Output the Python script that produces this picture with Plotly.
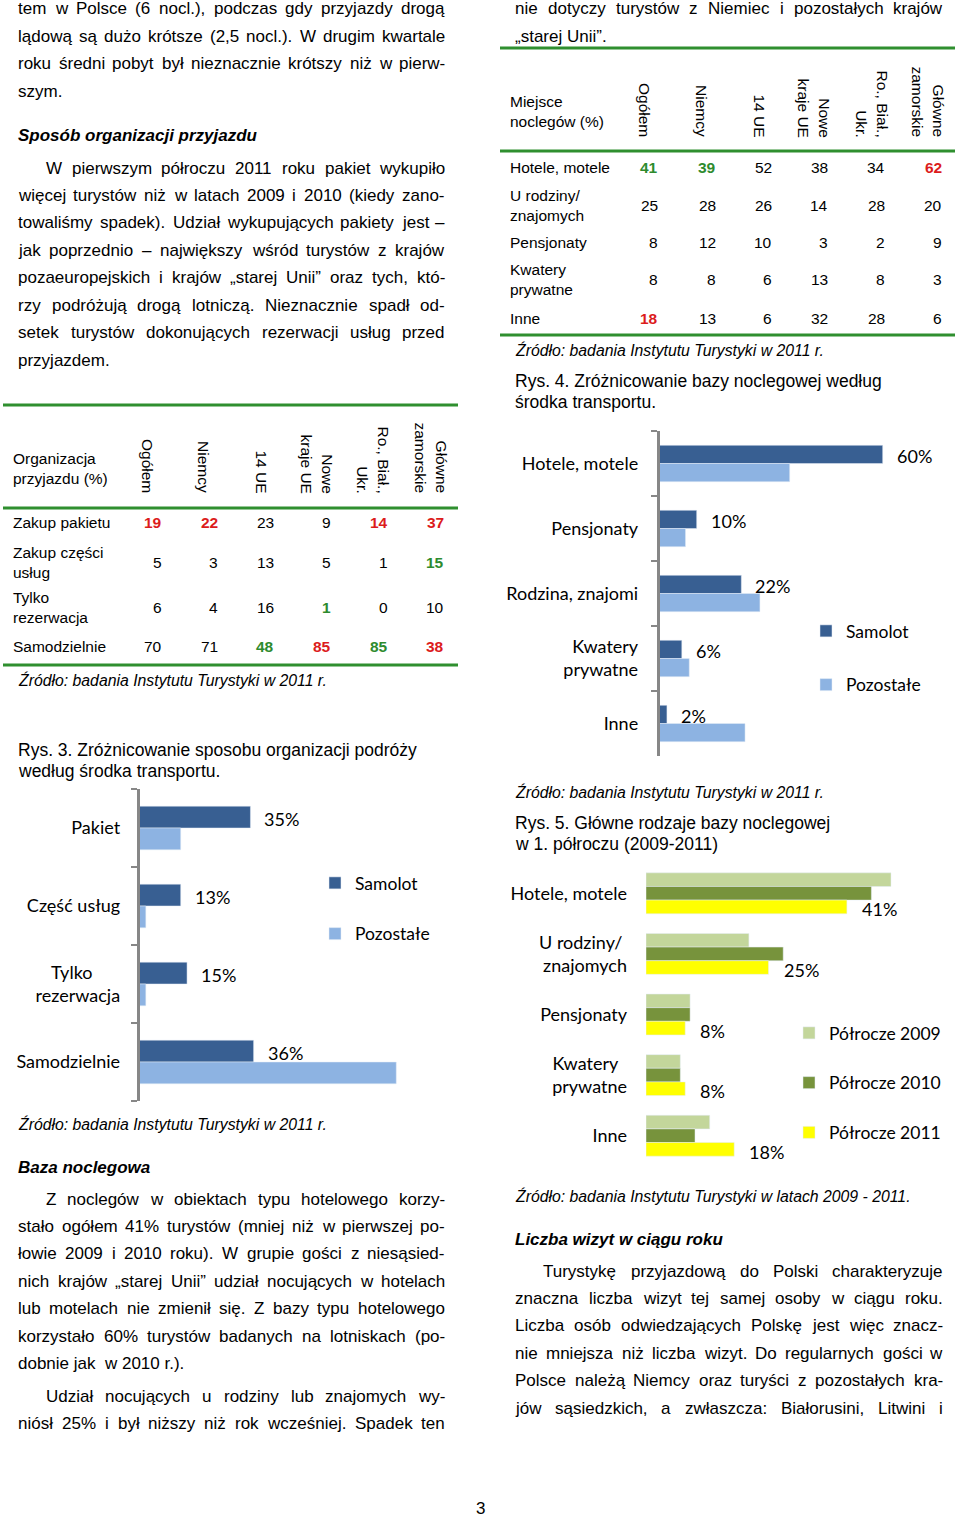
import plotly.graph_objects as go

# ---------------- data ----------------
groups = ["Ogółem", "Niemcy", "14 UE", "Nowe<br>kraje UE", "Ro., Biał.,<br>Ukr.", "Główne<br>zamorskie"]

org_rows = ["Zakup pakietu", "Zakup części<br>usług", "Tylko<br>rezerwacja", "Samodzielnie"]
org_values = [
    [19, 22, 23, 9, 14, 37],
    [5, 3, 13, 5, 1, 15],
    [6, 4, 16, 1, 0, 10],
    [70, 71, 48, 85, 85, 38],
]
org_red = [(0, 0), (0, 1), (0, 4), (0, 5), (3, 3), (3, 5)]
org_green = [(1, 5), (2, 3), (3, 2), (3, 4)]

acc_rows = ["Hotele, motele", "U rodziny/<br>znajomych", "Pensjonaty", "Kwatery<br>prywatne", "Inne"]
acc_values = [
    [41, 39, 52, 38, 34, 62],
    [25, 28, 26, 14, 28, 20],
    [8, 12, 10, 3, 2, 9],
    [8, 8, 6, 13, 8, 3],
    [18, 13, 6, 32, 28, 6],
]
acc_red = [(0, 5), (4, 0)]
acc_green = [(0, 0), (0, 1)]

org_cats = ["Pakiet", "Część usług", "Tylko<br>rezerwacja", "Samodzielnie"]
org_samolot = [35, 13, 15, 36]
org_pozostale = [13, 2, 2, 81]

base_cats = ["Hotele, motele", "Pensjonaty", "Rodzina, znajomi", "Kwatery<br>prywatne", "Inne"]
base_samolot = [60, 10, 22, 6, 2]
base_pozostale = [35, 7, 27, 8, 23]

trend_cats = ["Hotele, motele", "U rodziny/<br>znajomych", "Pensjonaty", "Kwatery<br>prywatne", "Inne"]
half_2009 = [50, 21, 9, 7, 13]
half_2010 = [46, 28, 9, 7, 10]
half_2011 = [41, 25, 8, 8, 18]

series_transport = ["Samolot", "Pozostałe"]
series_years = ["Półrocze 2009", "Półrocze 2010", "Półrocze 2011"]

# ---------------- text ----------------
left_par1 = [
    "tem w Polsce (6 nocl.), podczas gdy przyjazdy drogą",
    "lądową są dużo krótsze (2,5 nocl.). W drugim kwartale",
    "roku średni pobyt był nieznacznie krótszy niż w pierw-",
    "szym.",
]
head_org = "Sposób organizacji przyjazdu"
left_par2 = [
    "W pierwszym półroczu 2011 roku pakiet wykupiło",
    "więcej turystów niż w latach 2009 i 2010 (kiedy zano-",
    "towaliśmy spadek). Udział wykupujących pakiety jest –",
    "jak poprzednio – największy wśród turystów z krajów",
    "pozaeuropejskich i krajów „starej Unii” oraz tych, któ-",
    "rzy podróżują drogą lotniczą. Nieznacznie spadł od-",
    "setek turystów dokonujących rezerwacji usług przed",
    "przyjazdem.",
]
head_base = "Baza noclegowa"
left_par3 = [
    "Z noclegów w obiektach typu hotelowego korzy-",
    "stało ogółem 41% turystów (mniej niż w pierwszej po-",
    "łowie 2009 i 2010 roku). W grupie gości z niesąsied-",
    "nich krajów „starej Unii” udział nocujących w hotelach",
    "lub motelach nie zmienił się. Z bazy typu hotelowego",
    "korzystało 60% turystów badanych na lotniskach (po-",
    "dobnie jak  w 2010 r.).",
]
left_par4 = [
    "Udział nocujących u rodziny lub znajomych wy-",
    "niósł 25% i był niższy niż rok wcześniej. Spadek ten",
]
right_par1 = [
    "nie dotyczy turystów z Niemiec i pozostałych krajów",
    "„starej Unii”.",
]
head_visits = "Liczba wizyt w ciągu roku"
right_par2 = [
    "Turystykę przyjazdową do Polski charakteryzuje",
    "znaczna liczba wizyt tej samej osoby w ciągu roku.",
    "Liczba osób odwiedzających Polskę jest więc znacz-",
    "nie mniejsza niż liczba wizyt. Do regularnych gości w",
    "Polsce należą Niemcy oraz turyści z pozostałych kra-",
    "jów sąsiedzkich, a zwłaszcza: Białorusini, Litwini i",
]
src_2011 = "Źródło: badania Instytutu Turystyki w 2011 r."
src_years = "Źródło: badania Instytutu Turystyki w latach 2009 - 2011."
rys3 = ["Rys. 3. Zróżnicowanie sposobu organizacji podróży", "według środka transportu."]
rys4 = ["Rys. 4. Zróżnicowanie bazy noclegowej według", "środka transportu."]
rys5 = ["Rys. 5. Główne rodzaje bazy noclegowej", "w 1. półroczu (2009-2011)"]
org_head_label = "Organizacja<br>przyjazdu (%)"
acc_head_label = "Miejsce<br>noclegów (%)"
page_no = "3"

# ---------------- styles ----------------
PW, PH = 960, 1518
BODY = "Liberation Sans, Arial, sans-serif"
CHART = "Lato, Carlito, Calibri, sans-serif"
GREEN_LINE = "#2f8f2f"
RED = "#dc1c1c"
GREEN = "#2e8b2e"
DARK = "#385f92"
LIGHT = "#8db3e2"
C2009 = "#c3d69b"
C2010 = "#77933c"
C2011 = "#ffff00"
AXIS = "#878787"
BODY_SIZE = 17
CHART_SIZE = 18
NB = "\u00a0"


def X(p):
    return p / PW


def Y(p):
    return 1 - p / PH


AW = {' ': 278, '.': 278, ',': 278, '(': 333, ')': 333, '-': 333, '–': 556, '„': 333, '”': 333,
      ':': 278, ';': 278, '/': 278, '%': 889}
for ch in "abdeghnopqu" + "ąęńó":
    AW[ch] = 556
for ch in "ckszvxy" + "ćśźż":
    AW[ch] = 500
for ch in "ijl" + "ł":
    AW[ch] = 222
AW.update({'f': 278, 't': 278, 'r': 333, 'm': 833, 'w': 722})
AW.update({'A': 667, 'B': 667, 'C': 722, 'D': 722, 'E': 667, 'F': 611, 'G': 778, 'H': 722, 'I': 278,
           'J': 500, 'K': 667, 'L': 556, 'M': 833, 'N': 722, 'O': 778, 'P': 667, 'R': 722, 'S': 667,
           'T': 611, 'U': 722, 'V': 667, 'W': 944, 'Z': 611, 'Ś': 667, 'Ź': 611, 'Ż': 611})
for ch in "0123456789":
    AW[ch] = 556


def tw(s, size):
    return sum(AW.get(c, 556) for c in s) * size / 1000.0


annotations = []
shapes = []


def add_text(x, y, text, size=BODY_SIZE, family=BODY, color="black", xanchor="left",
             yanchor="middle", align="left", textangle=0, bold=False, italic=False):
    t = text
    if bold:
        t = "<b>" + t + "</b>"
    if italic:
        t = "<i>" + t + "</i>"
    annotations.append(dict(x=X(x), y=Y(y), xref="paper", yref="paper", text=t, showarrow=False,
                            xanchor=xanchor, yanchor=yanchor, align=align, textangle=textangle,
                            font=dict(family=family, size=size, color=color),
                            borderpad=0, borderwidth=0))


def justified(y, line, left, right, size=BODY_SIZE):
    words = line.split(" ")
    if len(words) == 1:
        add_text(left, y, line, size)
        return
    widths = [tw(w, size) for w in words]
    gap = (right - left - sum(widths)) / (len(words) - 1)
    x = left
    for i, (w, wd) in enumerate(zip(words, widths)):
        if i == len(words) - 1:
            add_text(right, y, w, size, xanchor="right")
        else:
            add_text(x, y, w, size)
        x += wd + gap


def paragraph(lines, y0, left, right, indent=0, last_justified=False, spacing=27.45):
    for i, line in enumerate(lines):
        l = left + (indent if i == 0 else 0)
        y = y0 + i * spacing
        if i == len(lines) - 1 and not last_justified:
            add_text(l, y, line)
        else:
            justified(y, line, l, right)


def hline(x0, x1, y, color=GREEN_LINE, width=3):
    shapes.append(dict(type="line", xref="paper", yref="paper", x0=X(x0), x1=X(x1), y0=Y(y), y1=Y(y),
                       line=dict(color=color, width=width)))


def table(lx0, lx1, y_top, y_mid, y_bot, head_label, head_xy, col_centers, head_bottom,
          col_right, rows, row_ys, values, reds, greens, label_x):
    hline(lx0, lx1, y_top)
    hline(lx0, lx1, y_mid)
    hline(lx0, lx1, y_bot)
    add_text(head_xy[0], head_xy[1], head_label, 15.5, align="left")
    for cx, g in zip(col_centers, groups):
        add_text(cx, head_bottom, g, 15.5, xanchor="center", yanchor="bottom", align="right", textangle=90)
    for r, (lab, ry) in enumerate(zip(rows, row_ys)):
        add_text(label_x, ry, lab, 15.5, align="left")
        for c, v in enumerate(values[r]):
            col = "black"
            bold = False
            if (r, c) in reds:
                col, bold = RED, True
            elif (r, c) in greens:
                col, bold = GREEN, True
            add_text(col_right[c], ry, str(v), 15.5, color=col, xanchor="right", bold=bold)


# ---- left column text ----
L0, L1 = 18, 445
R0, R1 = 515, 943
paragraph(left_par1, 9, L0, L1)
add_text(L0, 136, head_org, BODY_SIZE, bold=True, italic=True)
paragraph(left_par2, 168, L0, L1, indent=28)

table(3, 458, 405, 508, 665, org_head_label, (13, 468), [148, 204, 261, 317, 373, 431], 493,
      [162, 218, 274, 331, 388, 444], org_rows, [523, 563, 607, 646], org_values, org_red, org_green, 13)
add_text(L0, 680, src_2011, 15.8, italic=True)
add_text(L0, 750, rys3[0], 17.5)
add_text(L0, 771, rys3[1], 17.5)

add_text(L0, 1124, src_2011, 15.8, italic=True)
add_text(L0, 1167, head_base, BODY_SIZE, bold=True, italic=True)
paragraph(left_par3, 1199, L0, L1, indent=28)
paragraph(left_par4, 1396, L0, L1, indent=28, last_justified=True)

# ---- right column text ----
paragraph(right_par1, 9, R0, R1)
table(500, 955, 48, 151, 335, acc_head_label, (510, 112), [645, 702, 759, 814, 872, 928], 137,
      [658, 716, 772, 828, 885, 942], acc_rows, [167, 205, 242, 280, 318], acc_values, acc_red, acc_green, 510)
add_text(R0, 350, src_2011, 15.8, italic=True)
add_text(R0, 381, rys4[0], 17.5)
add_text(R0, 402, rys4[1], 17.5)

add_text(R0, 792, src_2011, 15.8, italic=True)
add_text(R0, 823, rys5[0], 17.5)
add_text(R0, 844, rys5[1], 17.5)

add_text(R0, 1196, src_years, 15.8, italic=True)
add_text(R0, 1239, head_visits, BODY_SIZE, bold=True, italic=True)
paragraph(right_par2, 1271, R0, R1, indent=28, last_justified=True)

add_text(480, 1508, page_no, BODY_SIZE, xanchor="center")

# ---------------- charts ----------------
fig = go.Figure()
label_font = dict(family=CHART, size=CHART_SIZE, color="black")

# Chart 1: organisation by transport
fig.add_trace(go.Bar(y=org_cats, x=org_samolot, orientation="h", name=series_transport[0],
                     marker_color=DARK, width=0.28, offset=-0.28, xaxis="x", yaxis="y",
                     legend="legend", legendgroup="s1"))
fig.add_trace(go.Bar(y=org_cats, x=org_pozostale, orientation="h", name=series_transport[1],
                     marker_color=LIGHT, width=0.28, offset=0.0, xaxis="x", yaxis="y",
                     legend="legend", legendgroup="p1"))
for c, v in zip(org_cats, org_samolot):
    annotations.append(dict(x=v, y=c, xref="x", yref="y", text=f"{v}%", showarrow=False,
                            xanchor="left", yanchor="middle", xshift=12, yshift=9, font=label_font))

# Chart 2: accommodation by transport
fig.add_trace(go.Bar(y=base_cats, x=base_samolot, orientation="h", name=series_transport[0],
                     marker_color=DARK, width=0.28, offset=-0.28, xaxis="x2", yaxis="y2",
                     legend="legend2", legendgroup="s2"))
fig.add_trace(go.Bar(y=base_cats, x=base_pozostale, orientation="h", name=series_transport[1],
                     marker_color=LIGHT, width=0.28, offset=0.0, xaxis="x2", yaxis="y2",
                     legend="legend2", legendgroup="p2"))
for c, v in zip(base_cats, base_samolot):
    annotations.append(dict(x=v, y=c, xref="x2", yref="y2", text=f"{v}%", showarrow=False,
                            xanchor="left", yanchor="middle", xshift=12, yshift=8, font=label_font))

# Chart 3: accommodation 2009-2011
for name, vals, col, off, grp in zip(series_years, [half_2009, half_2010, half_2011],
                                     [C2009, C2010, C2011], [-0.3375, -0.1125, 0.1125],
                                     ["y9", "y10", "y11"]):
    fig.add_trace(go.Bar(y=trend_cats, x=vals, orientation="h", name=name, marker_color=col,
                         width=0.225, offset=off, xaxis="x3", yaxis="y3",
                         legend="legend3", legendgroup=grp))
for c, v in zip(trend_cats, half_2011):
    annotations.append(dict(x=v, y=c, xref="x3", yref="y3", text=f"{v}%", showarrow=False,
                            xanchor="left", yanchor="middle", xshift=13, yshift=-16, font=label_font))


def cat_axis(domain, cats, line=True, standoff=10, ticktext=None):
    d = dict(domain=domain, type="category", categoryorder="array", categoryarray=cats,
             range=[len(cats) - 0.5, -0.5], showgrid=False, zeroline=False, tickfont=label_font,
             fixedrange=True, ticklabelstandoff=standoff)
    if ticktext is not None:
        d.update(tickmode="array", tickvals=cats, ticktext=ticktext)
    if line:
        d.update(showline=True, linecolor=AXIS, linewidth=2.5, ticks="outside", ticklen=6,
                 tickwidth=2, tickcolor=AXIS, tickson="boundaries")
    else:
        d.update(showline=False, ticks="")
    return d


def val_axis(domain, rng, anchor):
    return dict(domain=domain, range=rng, visible=False, showgrid=False, zeroline=False,
                fixedrange=True, anchor=anchor)


# tick label layout: centre "Tylko" above "rezerwacja", nudge "Kwatery"/"U rodziny/"
org_ticktext = [c.replace("Tylko<br>", "Tylko" + NB * 6 + "<br>") for c in org_cats]
trend_ticktext = [c.replace("Kwatery<br>", "Kwatery" + NB * 2 + "<br>")
                   .replace("U rodziny/<br>", "U rodziny/" + NB + "<br>") for c in trend_cats]

legend_common = dict(xanchor="left", yanchor="top", bgcolor="rgba(0,0,0,0)",
                     font=dict(family=CHART, size=17.5, color="black"), traceorder="grouped")

fig.update_layout(
    width=PW, height=PH, margin=dict(l=0, r=0, t=0, b=0, pad=0),
    paper_bgcolor="white", plot_bgcolor="white", showlegend=True,
    barmode="overlay",
    xaxis=val_axis([X(139.5), X(139.5 + 317)], [0, 100], "y"),
    yaxis=dict(cat_axis([Y(1101), Y(789)], org_cats, standoff=13, ticktext=org_ticktext), anchor="x"),
    xaxis2=val_axis([X(659.5), X(659.5 + 297.6)], [0, 80], "y2"),
    yaxis2=dict(cat_axis([Y(756), Y(431)], base_cats, standoff=15), anchor="x2"),
    xaxis3=val_axis([X(646), X(646 + 294)], [0, 60], "y3"),
    yaxis3=dict(cat_axis([Y(1166), Y(863)], trend_cats, line=False, standoff=18,
                         ticktext=trend_ticktext), anchor="x3"),
    legend=dict(legend_common, x=X(315), y=Y(865), tracegroupgap=25),
    legend2=dict(legend_common, x=X(806), y=Y(613), tracegroupgap=28),
    legend3=dict(legend_common, x=X(789), y=Y(1015), tracegroupgap=24),
    annotations=annotations,
    shapes=shapes,
    font=dict(family=BODY, color="black"),
)

fig.write_html("out.html", config={"displayModeBar": False},
               post_script="document.body.style.margin='0px';")
